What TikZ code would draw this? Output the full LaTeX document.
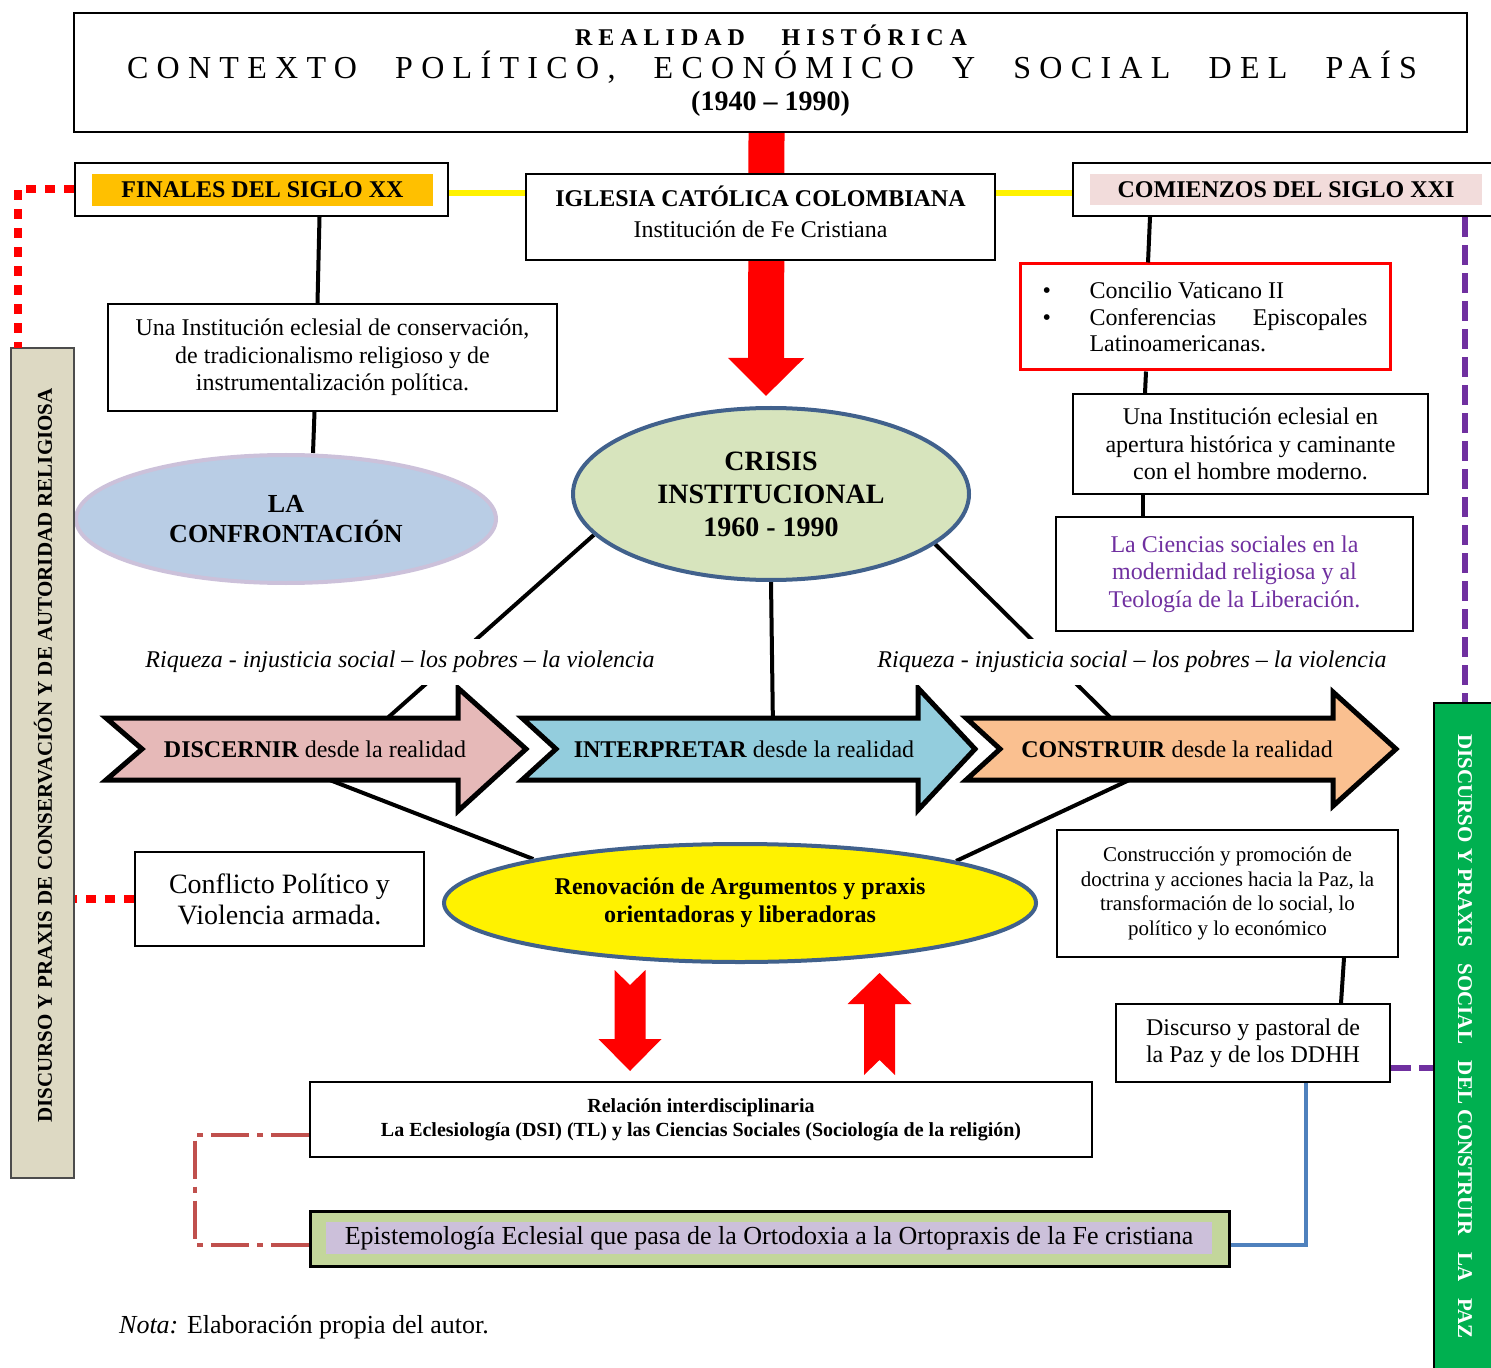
\documentclass[tikz,border=0pt]{standalone}
\usepackage{fontspec}
\setmainfont{Liberation Serif}
\newfontfamily\espaciada[LetterSpace=26]{Liberation Serif}
\newfontfamily\espaciadab[LetterSpace=25]{Liberation Serif}
\usepackage{tikz}
\usetikzlibrary{shapes.geometric, arrows.meta, positioning, calc, backgrounds}

\definecolor{naranja}{HTML}{FFC000}
\definecolor{rosa}{HTML}{F2DCDB}
\definecolor{azulclaro}{HTML}{B9CDE5}
\definecolor{lila}{HTML}{CCC1DA}
\definecolor{verdeclaro}{HTML}{D7E4BD}
\definecolor{azulborde}{HTML}{41618C}
\definecolor{rosaflecha}{HTML}{E6B9B8}
\definecolor{celeste}{HTML}{93CDDD}
\definecolor{durazno}{HTML}{FAC090}
\definecolor{morado}{HTML}{7030A0}
\definecolor{verdebarra}{HTML}{00B050}
\definecolor{beige}{HTML}{DDD9C3}
\definecolor{verdeoliva}{HTML}{C3D69B}
\definecolor{lavanda}{HTML}{CCC0DA}
\definecolor{cafe}{HTML}{C0504D}
\definecolor{azulrecta}{HTML}{4F81BD}

\begin{document}
\begin{tikzpicture}[
    x=0.5pt, y=-0.5pt,
    caja/.style={rectangle, draw, line width=1pt, fill=white, align=center, inner sep=0pt},
    cuerpo/.style={font=\fontsize{12}{13.75}\selectfont},
    negrita/.style={font=\fontsize{12}{14}\selectfont\bfseries},
    elipse/.style={ellipse, draw=azulborde, line width=2pt, align=center, inner sep=0pt},
    enlace/.style={line width=2pt},
    flecha/.style={draw, line width=2.5pt, line join=miter},
    amarilla/.style={yellow, line width=3pt},
    puntos/.style={red, line width=4pt, dash pattern=on 5pt off 4.5pt},
    moradas/.style={morado, line width=3pt, dash pattern=on 10pt off 4pt},
    rayapunto/.style={cafe, line width=2pt, dash pattern=on 19pt off 4pt on 3pt off 4pt},
    azulada/.style={azulrecta, line width=2pt},
    rojagrande/.style={red, line width=18pt, -{Triangle[width=37pt, length=19pt]}}
]
    \useasboundingbox (0,0) rectangle (1491,1368);

    % Titulo
    \node[caja, minimum width=696.5pt, minimum height=59.5pt] (titulo) at (770.5,72.5) {};
    \node (tit1) at (771,35) {\fontsize{12}{14}\espaciadab\bfseries\makebox[196pt][s]{REALIDAD\hfill HISTÓRICA}};
    \node (tit2) at (772,67) {\fontsize{16}{18}\espaciada\makebox[645pt][s]{CONTEXTO\hfill POLÍTICO,\hfill ECONÓMICO\hfill Y\hfill SOCIAL\hfill DEL\hfill PAÍS}};
    \node[font=\fontsize{14}{16}\selectfont\bfseries] (tit3) at (770.5,104) {(1940 – 1990)};

    % Siglos e Iglesia
    \node[caja, minimum width=186.5pt, minimum height=26.5pt] (finales) at (261.5,189.5) {};
    \node[negrita, fill=naranja, minimum width=170.5pt, minimum height=16pt, inner sep=0pt] (finalestxt) at (262.5,190) {FINALES DEL SIGLO XX};
    \node[caja, minimum width=234.5pt, minimum height=43pt] (iglesia) at (760.5,217) {};
    \node[align=center, font=\fontsize{12}{15.5}\selectfont] (iglesiatxt) at (760.5,212) {\textbf{IGLESIA CATÓLICA COLOMBIANA}\\Institución de Fe Cristiana};
    \node[caja, minimum width=211pt, minimum height=26.5pt] (comienzos) at (1284,189.5) {};
    \node[negrita, fill=rosa, minimum width=196pt, minimum height=15.5pt, inner sep=0pt] (comienzostxt) at (1286,189.5) {COMIENZOS DEL SIGLO XXI};

    % Lado izquierdo
    \node[caja, cuerpo, minimum width=224.5pt, minimum height=53.5pt] (conserva) at (332.5,357.5) {Una Institución eclesial de conservación,\\de tradicionalismo religioso y de\\instrumentalización política.};
    \node[ellipse, draw=lila, fill=azulclaro, line width=2pt, minimum width=210pt, minimum height=64pt, inner sep=0pt, align=center, font=\fontsize{13}{15}\selectfont\bfseries] (confronta) at (286,519) {LA\\CONFRONTACIÓN};
    \node[caja, minimum width=144.5pt, minimum height=47pt, font=\fontsize{14}{15.5}\selectfont] (conflicto) at (279.5,899) {Conflicto Político y\\Violencia armada.};

    % Centro
    \node[elipse, fill=verdeclaro, minimum width=198pt, minimum height=86pt, font=\fontsize{14}{16.5}\selectfont\bfseries] (crisis) at (771,494) {CRISIS\\INSTITUCIONAL\\1960 - 1990};
    \node[elipse, fill=yellow, minimum width=296pt, minimum height=59pt, font=\fontsize{12}{14}\selectfont\bfseries] (renova) at (740,903) {Renovación de Argumentos y praxis\\orientadoras y liberadoras};

    % Lado derecho
    \node[caja, draw=red, line width=1.5pt, minimum width=185pt, minimum height=53pt, align=left, font=\fontsize{12}{13.25}\selectfont] (vaticano) at (1205,317) {\makebox[23.5pt][l]{\textbullet}Concilio Vaticano II\\\makebox[23.5pt][l]{\textbullet}\makebox[139pt][s]{Conferencias Episcopales}\\\hspace*{23.5pt}Latinoamericanas.};
    \node[caja, cuerpo, minimum width=177.5pt, minimum height=50pt] (apertura) at (1250.5,444) {Una Institución eclesial en\\apertura histórica y caminante\\con el hombre moderno.};
    \node[caja, cuerpo, text=morado, minimum width=178.5pt, minimum height=57pt] (ciencias) at (1234.5,574) {La Ciencias sociales en la\\modernidad religiosa y al\\Teología de la Liberación.};
    \node[caja, minimum width=170.5pt, minimum height=63.5pt, font=\fontsize{10.5}{12.2}\selectfont] (construye) at (1227.5,893.5) {Construcción y promoción de\\doctrina y acciones hacia la Paz, la\\transformación de lo social, lo\\político y lo económico};
    \node[caja, minimum width=137pt, minimum height=39pt, font=\fontsize{12}{13.5}\selectfont] (pastoral) at (1253,1043) {Discurso y pastoral de\\la Paz y de los DDHH};

    % Parte inferior
    \node[caja, minimum width=391pt, minimum height=37.5pt, font=\fontsize{10}{12}\selectfont\bfseries] (relacion) at (701,1119.5) {Relación interdisciplinaria\\La Eclesiología (DSI) (TL) y las Ciencias Sociales (Sociología de la religión)};
    \node[caja, fill=verdeoliva, line width=1.5pt, minimum width=459.5pt, minimum height=27.5pt] (episte) at (769.5,1238.5) {};
    \node[fill=lavanda, minimum width=443pt, minimum height=16pt, inner sep=0pt, font=\fontsize{13}{15}\selectfont] (epistetxt) at (769,1238) {Epistemología Eclesial que pasa de la Ortodoxia a la Ortopraxis de la Fe cristiana};
    \node[font=\fontsize{13}{15}\selectfont] (nota) at (304,1327) {\textit{Nota:} Elaboración propia del autor.};

    % Barras laterales
    \node[rectangle, draw=black!70, fill=beige, line width=1pt, minimum width=31.5pt, minimum height=415pt] (izq) at (42.5,763) {};
    \node[rotate=90, font=\fontsize{10.5}{12}\selectfont\bfseries] (izqtxt) at (43,755.5) {DISCURSO Y PRAXIS DE CONSERVACIÓN Y DE AUTORIDAD RELIGIOSA};
    \node[rectangle, draw, fill=verdebarra, line width=1pt, minimum width=31pt, minimum height=338.5pt] (verde) at (1465,1041.5) {};
    \node[rotate=-90, text=white, font=\fontsize{10.5}{12}\selectfont\bfseries] (verdetxt) at (1465,1036.5) {DISCURSO Y PRAXIS\hspace{0.8em}SOCIAL\hspace{0.8em}DEL CONSTRUIR\hspace{0.8em}LA\hspace{0.8em}PAZ};

    % Flechas de proceso
    \draw[flecha, fill=rosaflecha] (106,718) -- (458,718) -- (458,688) -- (526,749) -- (458,811) -- (458,780) -- (106,780) -- (142,749) -- cycle;
    \draw[flecha, fill=celeste] (522,718) -- (918,718) -- (918,688) -- (975,749) -- (918,810) -- (918,780) -- (522,780) -- (556,749) -- cycle;
    \draw[flecha, fill=durazno] (966,718) -- (1333,718) -- (1333,692) -- (1396,749) -- (1333,806) -- (1333,780) -- (966,780) -- (1000,749) -- cycle;
    \node[cuerpo] (discernir) at (315,749) {\textbf{DISCERNIR} desde la realidad};
    \node[cuerpo] (interpretar) at (744,749) {\textbf{INTERPRETAR} desde la realidad};
    \node[cuerpo] (construir) at (1177,749) {\textbf{CONSTRUIR} desde la realidad};

    % Puntos de contacto
    \coordinate (dis-arriba) at (374,730);
    \coordinate (dis-abajo) at (304,770);
    \coordinate (int-arriba) at (773,730);
    \coordinate (con-arriba) at (1123,730);
    \coordinate (con-abajo) at (1140,775);
    \coordinate (esq-roja) at (18,348);
    \coordinate (esq-cafe) at (195,1190);
    \coordinate (baja) at (630,970);
    \coordinate (sube) at (879.5,1075);

    % Etiquetas
    \node[font=\fontsize{12}{14}\selectfont\itshape, fill=white, inner ysep=6pt] (riqueza1) at (400,662) {Riqueza - injusticia social – los pobres – la violencia};
    \node[font=\fontsize{12}{14}\selectfont\itshape, fill=white, inner ysep=6pt] (riqueza2) at (1132,662) {Riqueza - injusticia social – los pobres – la violencia};

    % Conectores de fondo
    \begin{scope}[on background layer]
        \draw[rojagrande] ([xshift=-2pt]titulo.south) -- ([xshift=-2.5pt, yshift=5pt]crisis.north);
        \draw[enlace] (crisis.193) -- (dis-arriba);
        \draw[enlace] (crisis.south) -- (int-arriba);
        \draw[enlace] (crisis.343) -- (con-arriba);
        \draw[enlace] (dis-abajo) -- (renova.168);
        \draw[enlace] (con-abajo) -- (renova.11);
    \end{scope}

    % Lineas
    \draw[amarilla] ([yshift=-2pt]finales.east) -- ([yshift=-2pt]iglesia.west |- finales.east);
    \draw[amarilla] ([yshift=-2pt]iglesia.east |- comienzos.west) -- ([yshift=-2pt]comienzos.west);
    \draw[enlace] ([xshift=29pt]finales.south) -- ([xshift=-7.5pt]conserva.north);
    \draw[enlace] ([xshift=-9pt]conserva.south) -- ([xshift=13.5pt]confronta.north);
    \draw[enlace] ([xshift=-67pt]comienzos.south) -- ([xshift=-28.5pt]vaticano.north);
    \draw[enlace] ([xshift=-29.5pt]vaticano.south) -- ([xshift=-52.75pt]apertura.north);
    \draw[enlace] ([xshift=-53.75pt]apertura.south) -- ([xshift=-45.75pt]ciencias.north);
    \draw[enlace] ([xshift=58.25pt]construye.south) -- ([xshift=44pt]pastoral.north);

    % Lineas discontinuas
    \draw[puntos] (finales.west) -| (esq-roja);
    \draw[puntos] (conflicto.west) -- (conflicto.west -| izq.east);
    \draw[moradas] (comienzos.south -| verde.north) -- (verde.north);
    \draw[moradas] ([yshift=-12.5pt]pastoral.east) -- ([yshift=-12.5pt]pastoral.east -| verde.west);
    \draw[azulada] ([xshift=26.5pt]pastoral.south) |- ([yshift=-3pt]episte.east);
    \draw[rayapunto] ([yshift=-7.5pt]relacion.west) -| (esq-cafe) |- ([yshift=-3pt]episte.west);

    % Flechas rojas
    \fill[red] (baja) ++(-15.5,0) -- ++(15.5,15) -- ++(15.5,-15) -- ++(0,69) -- ++(16,0) -- ++(-31.5,32) -- ++(-31.5,-32) -- ++(16,0) -- cycle;
    \fill[red] (sube) ++(-15.5,0) -- ++(15.5,-15) -- ++(15.5,15) -- ++(0,-71) -- ++(16.5,0) -- ++(-32,-31) -- ++(-32,31) -- ++(16.5,0) -- cycle;
\end{tikzpicture}
\end{document}
